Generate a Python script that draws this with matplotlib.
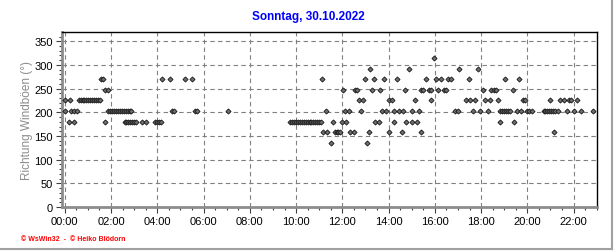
"""Wind gust direction, Sunday 30.10.2022 (WsWin32 style day chart)."""

import matplotlib
matplotlib.use("Agg")
import matplotlib.pyplot as plt
import matplotlib.ticker as ticker
from matplotlib.lines import Line2D

TITLE = "Sonntag, 30.10.2022"
YLABEL = "Richtung Windböen (°)"
FOOTER = "© WsWin32  -  © Heiko Blödorn"

# minutes after midnight, grouped by measured direction (degrees)
t_135 = [690, 785]
t_157 = [670, 680, 700, 705, 710, 715, 740, 750, 790, 840, 875, 925, 1270]
t_180 = [10, 25, 105, 155, 160, 165, 170, 175, 180, 185, 200, 210,
         235, 240, 245, 250,
         585, 590, 595, 600, 605, 610, 615, 620, 625, 630, 635, 640,
         645, 650, 655, 660, 665,
         695, 720, 730, 805, 815, 855, 885, 900, 915, 1130, 1165]
t_202 = [1, 17, 24, 32,
         113, 118, 123, 128, 133, 138, 143, 148, 153, 158, 163, 168, 173,
         278, 283, 337, 343, 423, 677, 727, 738, 768, 822, 833, 855, 866,
         877, 902, 918, 1013, 1020, 1058, 1077, 1097,
         1129, 1134, 1139, 1144, 1149, 1154, 1172, 1184, 1199, 1204, 1211,
         1242, 1247, 1252, 1257, 1262, 1267, 1272, 1279,
         1303, 1320, 1338, 1370]
t_225 = [0, 14, 36, 41, 46, 51, 56, 61, 66, 71, 76, 81, 86, 91,
         762, 774, 842, 849, 908, 951, 1041, 1052, 1065, 1091, 1103, 1123,
         1188, 1193, 1258, 1286, 1296, 1308, 1313, 1328]
t_247 = [103, 113, 722, 753, 758, 797, 818, 882, 924, 930, 944, 949, 968,
         983, 989, 1085, 1106, 1113, 1119, 1162]
t_270 = [94, 98, 252, 273, 311, 331, 667, 779, 802, 828, 861, 936, 963,
         977, 995, 1002, 1048, 1142, 1178]
t_292 = [792, 893, 1023, 1071]
t_315 = [957]

GROUPS = [(135.0, t_135), (157.5, t_157), (180.0, t_180), (202.5, t_202),
          (225.0, t_225), (247.5, t_247), (270.0, t_270), (292.5, t_292),
          (315.0, t_315)]

X_TICKS = list(range(0, 1321, 120))
X_LABELS = [f"{m // 60:02d}:00" for m in X_TICKS]
Y_TICKS = [0, 50, 100, 150, 200, 250, 300, 350]


def main() -> None:
    plt.rcParams["font.family"] = ["Liberation Sans", "DejaVu Sans"]
    fig = plt.figure(figsize=(6.16, 2.53), dpi=100)
    ax = fig.add_axes([0.1002, 0.1779, 0.8685, 0.6905])

    xs, ys = [], []
    for deg, times in GROUPS:
        xs += times
        ys += [deg] * len(times)
    ax.plot(xs, ys, linestyle="none", marker="D", markersize=2.6,
            markerfacecolor="#6e6e6e", markeredgecolor="#151515",
            markeredgewidth=0.6, zorder=3, clip_on=False)

    ax.set_xlim(-8, 1380)
    ax.set_ylim(0, 369)
    ax.set_xticks(X_TICKS)
    ax.set_xticklabels(X_LABELS)
    ax.xaxis.set_minor_locator(ticker.MultipleLocator(30))
    ax.set_yticks(Y_TICKS)
    ax.yaxis.set_minor_locator(ticker.MultipleLocator(10))
    ax.tick_params(which="major", length=4, width=0.8, labelsize=8,
                   direction="out", pad=2.5, color="#404040")
    ax.tick_params(which="minor", length=2.5, width=0.8, direction="out",
                   color="#404040")

    ax.grid(True, which="major", linestyle=(0, (4, 3)), color="#808080",
            linewidth=0.8)
    ax.set_axisbelow(True)

    for side in ("left", "bottom"):
        ax.spines[side].set_color("#8c8c8c")
        ax.spines[side].set_linewidth(2.0)
    for side in ("top", "right"):
        ax.spines[side].set_color("black")
        ax.spines[side].set_linewidth(1.0)

    ax.set_ylabel(YLABEL, fontsize=8.5, color="#8c8c8c", labelpad=1)

    fig.text(0.5, 0.933, TITLE, ha="center", va="center", fontsize=8.5,
             fontweight="bold", color="#0000ff")
    fig.text(0.034, 0.052, FOOTER, ha="left", va="center", fontsize=5,
             fontweight="bold", color="#ff0000")

    # light grey frame at right and bottom edge of the picture
    fig.add_artist(Line2D([0.994, 0.994], [0.012, 1.0], transform=fig.transFigure,
                          color="#a0a0a0", linewidth=1.5))
    fig.add_artist(Line2D([0.0, 0.994], [0.012, 0.012], transform=fig.transFigure,
                          color="#a0a0a0", linewidth=1.5))

    fig.savefig("out.png", dpi=100)
    plt.close(fig)


if __name__ == "__main__":
    main()
